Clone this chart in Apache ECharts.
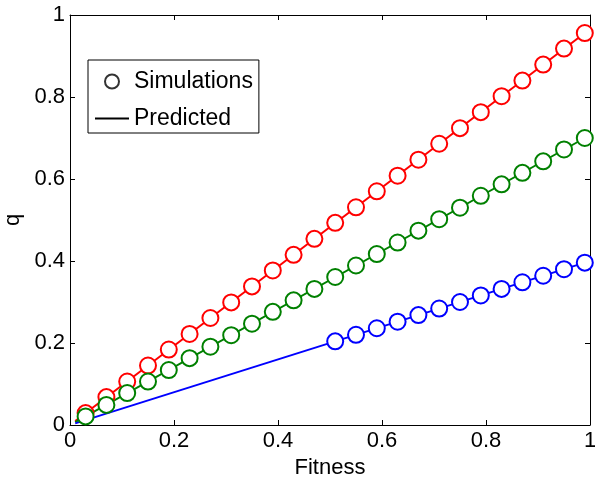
<!DOCTYPE html>
<html><head><meta charset="utf-8">
<script src="https://cdn.jsdelivr.net/npm/echarts@6/dist/echarts.min.js"></script>
<style>html,body{margin:0;padding:0;background:#fff}#c{width:595px;height:477px}</style>
</head><body><div id="c"></div>
<script>
const simX = [0.03,0.07,0.11,0.15,0.19,0.23,0.27,0.31,0.35,0.39,0.43,0.47,0.51,0.55,0.59,0.63,0.67,0.71,0.75,0.79,0.83,0.87,0.91,0.95,0.99];
const redSim = [0.029,0.068,0.106,0.145,0.184,0.222,0.261,0.299,0.338,0.377,0.415,0.454,0.493,0.531,0.570,0.608,0.647,0.686,0.724,0.763,0.802,0.840,0.879,0.918,0.956];
const greenSim = [0.021,0.049,0.078,0.106,0.134,0.163,0.191,0.219,0.247,0.276,0.304,0.332,0.361,0.389,0.417,0.445,0.474,0.502,0.530,0.559,0.587,0.615,0.643,0.672,0.700];
const blueSimX = [0.51,0.55,0.59,0.63,0.67,0.71,0.75,0.79,0.83,0.87,0.91,0.95,0.99];
const blueSim = [0.204,0.220,0.236,0.252,0.268,0.284,0.300,0.316,0.332,0.348,0.364,0.380,0.396];
const predX = [0.01, 0.99];
const redPred = [0.0097, 0.956];
const greenPred = [0.0071, 0.700];
const bluePred = [0.004, 0.396];

const FONT = 'Liberation Sans';
const zip = (xs, ys) => xs.map((x, i) => [x, ys[i]]);
function sim(name, xs, ys, color) {
  return {type:'scatter', name, data: zip(xs, ys), symbol:'emptyCircle', symbolSize:16,
    itemStyle:{color:color, borderColor:color, borderWidth:2, opacity:1}, z:3, silent:true};
}
function pred(ys, color) {
  return {type:'line', data: zip(predX, ys), symbol:'none', lineStyle:{color, width:2}, z:2, silent:true};
}
const axisCommon = {min:0, max:1, interval:0.2,
  axisLine:{show:true, onZero:false, lineStyle:{color:'#000', width:1}},
  axisTick:{show:true, inside:true, length:5, lineStyle:{color:'#000', width:1}},
  splitLine:{show:false}};
const chart = echarts.init(document.getElementById('c'));
chart.setOption({
  animation:false,
  backgroundColor:'#fff',
  grid:{left:70, right:5, top:15, bottom:52, containLabel:false, outerBoundsMode:'none'},
  xAxis:[
    Object.assign({type:'value', position:'bottom', name:'Fitness', nameLocation:'middle', nameGap:27,
      nameTextStyle:{fontFamily:FONT, fontSize:22, color:'#000'},
      axisLabel:{fontFamily:FONT, fontSize:22, color:'#000', margin:5, formatter:v=>String(+v.toFixed(1))}}, axisCommon),
    Object.assign({type:'value', position:'top', axisLabel:{show:false}}, axisCommon)
  ],
  yAxis:[
    Object.assign({type:'value', position:'left', name:'q', nameLocation:'middle', nameGap:44,
      nameTextStyle:{fontFamily:FONT, fontSize:22, color:'#000'},
      axisLabel:{fontFamily:FONT, fontSize:22, color:'#000', margin:5, formatter:v=>String(+v.toFixed(1))}}, axisCommon),
    Object.assign({type:'value', position:'right', axisLabel:{show:false}}, axisCommon)
  ],
  legend:{orient:'vertical', left:88, top:60, backgroundColor:'#fff',
    borderColor:'#000', borderWidth:1, padding:[10,6,3,7], itemGap:14, itemWidth:34, itemHeight:14,
    textStyle:{fontFamily:FONT, fontSize:23, color:'#000'},
    selectedMode:false,
    data:[{name:'Simulations', icon:'emptyCircle', itemStyle:{color:'#000', borderColor:'#000', borderWidth:2}},
          {name:'Predicted', icon:'path://M0,0L34,0L34,2L0,2Z', itemStyle:{color:'#000'}}]},
  series:[
    pred(redPred, '#ff0000'), pred(greenPred, '#008000'), pred(bluePred, '#0000ff'),
    sim('r', simX, redSim, '#ff0000'), sim('g', simX, greenSim, '#008000'), sim('b', blueSimX, blueSim, '#0000ff'),
    {type:'scatter', name:'Simulations', symbol:'emptyCircle', data:[], itemStyle:{color:'#000'}},
    {type:'line', name:'Predicted', data:[], itemStyle:{color:'#000'}}
  ]
});
</script></body></html>
